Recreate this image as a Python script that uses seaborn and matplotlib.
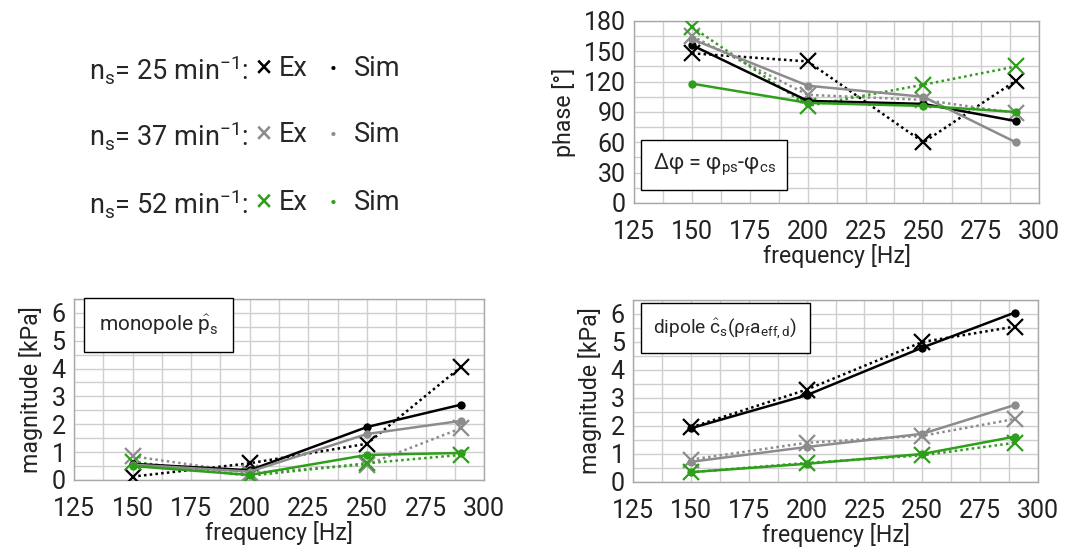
import seaborn as sns
import pandas as pd
import matplotlib.pyplot as plt
from matplotlib.ticker import MultipleLocator

freq = [150, 200, 250, 290]
speeds = [25, 37, 52]

# phase [deg]
phase_ex_25 = [148, 140, 60, 121]
phase_sim_25 = [156, 101, 98, 81]
phase_ex_37 = [165, 107, 102, 89]
phase_sim_37 = [162, 116, 105, 60]
phase_ex_52 = [174, 96, 117, 135]
phase_sim_52 = [118, 99, 96, 90]

# monopole magnitude [kPa]
mono_ex_25 = [0.12, 0.6, 1.3, 4.05]
mono_sim_25 = [0.58, 0.35, 1.9, 2.7]
mono_ex_37 = [0.85, 0.25, 0.55, 1.85]
mono_sim_37 = [0.55, 0.3, 1.65, 2.12]
mono_ex_52 = [0.65, 0.15, 0.6, 0.9]
mono_sim_52 = [0.5, 0.18, 0.9, 0.97]

# dipole magnitude [kPa]
dip_ex_25 = [1.95, 3.3, 5.0, 5.55]
dip_sim_25 = [1.92, 3.1, 4.8, 6.05]
dip_ex_37 = [0.8, 1.4, 1.65, 2.25]
dip_sim_37 = [0.72, 1.25, 1.72, 2.75]
dip_ex_52 = [0.35, 0.68, 0.95, 1.4]
dip_sim_52 = [0.35, 0.65, 1.0, 1.62]

colors = {25: 'black', 37: '#8c8c8c', 52: '#2f9e1c'}


def long_df(ex, sim):
    rows = []
    for s, e, m in zip(speeds, ex, sim):
        for f, v in zip(freq, e):
            rows.append((s, 'Ex', f, v))
        for f, v in zip(freq, m):
            rows.append((s, 'Sim', f, v))
    return pd.DataFrame(rows, columns=['speed', 'kind', 'freq', 'value'])


phase_df = long_df([phase_ex_25, phase_ex_37, phase_ex_52],
                   [phase_sim_25, phase_sim_37, phase_sim_52])
mono_df = long_df([mono_ex_25, mono_ex_37, mono_ex_52],
                  [mono_sim_25, mono_sim_37, mono_sim_52])
dip_df = long_df([dip_ex_25, dip_ex_37, dip_ex_52],
                 [dip_sim_25, dip_sim_37, dip_sim_52])

sns.set_style('white')
plt.rcParams['font.family'] = ['Roboto', 'DejaVu Sans']
plt.rcParams['mathtext.fontset'] = 'custom'
plt.rcParams['mathtext.rm'] = 'Roboto'
plt.rcParams['mathtext.it'] = 'Roboto:italic'

fig = plt.figure(figsize=(10.88, 5.54), dpi=100)
ax_ph = fig.add_axes([0.583, 0.6336, 0.372, 0.3285])
ax_mo = fig.add_axes([0.068, 0.1336, 0.377, 0.327])
ax_di = fig.add_axes([0.582, 0.130, 0.372, 0.3285])


def draw(ax, df):
    for s in speeds:
        d = df[df.speed == s]
        ex = d[d.kind == 'Ex']
        sim = d[d.kind == 'Sim']
        sns.lineplot(x='freq', y='value', data=ex, ax=ax, color=colors[s],
                     linestyle=(0, (1, 1.3)), lw=1.8, marker='x', markersize=11,
                     markeredgewidth=1.6, markeredgecolor=colors[s], zorder=3)
        sns.lineplot(x='freq', y='value', data=sim, ax=ax, color=colors[s],
                     lw=1.8, marker='o', markersize=6, markeredgewidth=0,
                     zorder=4)
    ax.set_xlim(125, 300)
    ax.xaxis.set_major_locator(MultipleLocator(25))
    ax.xaxis.set_minor_locator(MultipleLocator(12.5))
    ax.grid(which='both', color='#cfcfcf', lw=1)
    ax.set_axisbelow(True)
    for sp in ax.spines.values():
        sp.set_color('#a8a8a8')
        sp.set_linewidth(1)
    ax.tick_params(which='both', length=0, labelsize=18, colors='#222222')
    ax.tick_params(axis='x', pad=12)
    ax.tick_params(axis='y', pad=6)
    ax.set_xlabel('frequency [Hz]', fontsize=16.7, labelpad=0, color='#222222')


draw(ax_ph, phase_df)
ax_ph.set_ylim(0, 180)
ax_ph.yaxis.set_major_locator(MultipleLocator(30))
ax_ph.yaxis.set_minor_locator(MultipleLocator(15))
ax_ph.set_ylabel('phase [°]', fontsize=16.7, color='#222222', labelpad=6)

for ax, df in [(ax_mo, mono_df), (ax_di, dip_df)]:
    draw(ax, df)
    ax.set_ylim(0, 6.5)
    ax.yaxis.set_major_locator(MultipleLocator(1))
    ax.yaxis.set_minor_locator(MultipleLocator(0.5))
    ax.set_ylabel('magnitude [kPa]', fontsize=16.7, color='#222222', labelpad=6)
    ax.set_yticks([0, 1, 2, 3, 4, 5, 6])

box = dict(boxstyle='square,pad=0.55', fc='white', ec='black', lw=1)
ax_ph.text(0.045, 0.21, r'Δφ = φ$_{\mathrm{ps}}$-φ$_{\mathrm{cs}}$', transform=ax_ph.transAxes,
           fontsize=15.5, va='center', ha='left', bbox=box, zorder=10)
ax_mo.text(0.06, 0.855, r'monopole $\hat{\mathrm{p}}_{\mathrm{s}}$', transform=ax_mo.transAxes,
           fontsize=15, va='center', ha='left', bbox=dict(boxstyle='square,pad=0.7', fc='white', ec='black', lw=1), zorder=10)
ax_di.text(0.05, 0.845, r'dipole $\hat{\mathrm{c}}_{\mathrm{s}}$(ρ$_{\mathrm{f}}$a$_{\mathrm{eff,d}}$)',
           transform=ax_di.transAxes, fontsize=13.8, va='center', ha='left',
           bbox=dict(boxstyle='square,pad=0.65', fc='white', ec='black', lw=1), zorder=10)

# legend as text rows
row_y = [1 - 69 / 554, 1 - 135 / 554, 1 - 203 / 554]
for s, y in zip(speeds, row_y):
    fig.text(89 / 1088, y, r'n$_{\mathrm{s}}$= %d min$^{-1}$:' % s, fontsize=19.5, va='center', ha='left')
    fig.text(256 / 1088, y, '×', fontsize=22, va='center', ha='left', color=colors[s])
    fig.text(279 / 1088, y, 'Ex', fontsize=19.5, va='center', ha='left')
    fig.text(330 / 1088, y, '•', fontsize=15, va='center', ha='left', color=colors[s])
    fig.text(354 / 1088, y, 'Sim', fontsize=19.5, va='center', ha='left')

fig.savefig('out.png', dpi=100)
